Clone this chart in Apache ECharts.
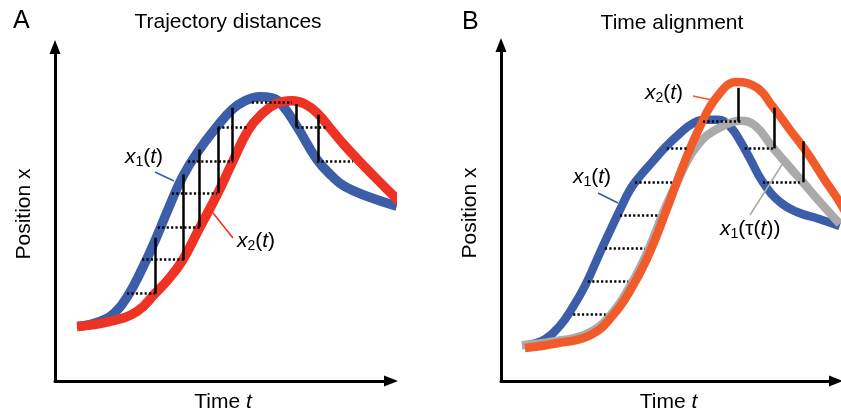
<!DOCTYPE html>
<html><head><meta charset="utf-8">
<script src="https://cdn.jsdelivr.net/npm/echarts@6/dist/echarts.min.js"></script>
<style>html,body{margin:0;padding:0;background:#fff}#c{width:841px;height:418px}</style>
</head><body><div id="c"></div>
<script>
// ---------- Panel A: trajectory distances  [time t, position x] ----------
const aBlue = [[6.7,16.0],[13.1,17.5],[17.5,20.1],[21.3,25.1],[25.4,32.9],[29.4,41.7],[33.5,51.6],[37.3,60.1],[41.7,67.3],[47.2,74.6],[51.6,79.6],[55.4,82.2],[59.8,83.4],[63.3,83.1],[66.2,81.0],[70.6,74.6],[76.4,65.0],[80.8,60.1],[84.5,57.1],[91.0,54.2],[99.7,51.3]];
const aRed = [[6.4,16.0],[16.0,17.5],[23.9,20.4],[29.2,25.7],[33.2,30.0],[37.3,35.6],[42.0,44.6],[47.5,55.1],[51.6,63.9],[56.3,73.5],[60.4,78.4],[64.4,81.3],[69.1,82.2],[72.9,81.3],[76.7,78.4],[80.8,73.5],[84.5,69.1],[88.3,65.0],[93.9,59.2],[100.6,52.5]];
// vertical distances: [t, x low, x high]
const aRungs = [[29.2,25.7,42.0],[37.3,35.6,60.6],[42.0,45.2,67.9],[47.5,55.1,74.4],[51.6,64.5,80.2],[70.3,74.4,81.3],[76.7,64.5,78.1]];
// dotted horizontals: [x, t start, t end]
const aDots = [[25.7,21.0,29.2],[35.6,25.4,37.9],[45.2,30.0,42.3],[55.1,34.1,47.2],[64.5,38.8,51.9],[74.4,47.5,56.3],[81.9,57.4,69.1],[74.4,70.6,79.6],[64.5,76.4,86.9]];

// ---------- Panel B: time alignment ----------
const bBlue = [[7.0,10.4],[12.9,12.2],[17.3,16.2],[20.8,21.2],[24.6,27.8],[28.4,36.2],[31.9,43.8],[34.8,49.9],[37.7,55.7],[40.6,59.7],[44.2,63.8],[48.0,68.1],[52.3,72.2],[56.1,75.1],[59.9,76.2],[63.5,76.2],[67.0,74.2],[69.9,70.1],[72.8,64.9],[76.6,58.0],[81.6,52.2],[86.6,49.3],[93.3,47.2],[99.1,45.2]];
const bGray = [[6.1,10.4],[15.8,11.6],[25.4,13.9],[32.2,19.4],[38.0,28.1],[43.0,38.0],[48.0,50.4],[51.8,58.6],[54.4,64.1],[57.0,68.1],[60.2,71.6],[64.6,74.2],[69.9,75.9],[74.3,74.5],[79.5,68.1],[84.5,62.3],[88.3,58.0],[93.3,52.2],[99.1,45.8]];
const bRed = [[7.0,9.6],[16.4,11.0],[26.0,13.3],[32.7,19.1],[38.6,27.8],[43.6,37.7],[48.5,50.1],[53.2,62.6],[58.2,74.2],[63.2,82.9],[69.0,87.2],[74.9,85.5],[79.5,80.0],[84.5,73.3],[89.5,66.7],[94.2,59.4],[99.4,51.6],[102.0,46.7]];
const bRungs = [[69.3,75.7,85.5],[79.8,67.8,79.7],[88.3,58.0,69.9]];
const bDots = [[19.4,21.1,30.6],[29.0,25.4,37.2],[38.8,30.4,42.1],[48.4,34.8,45.9],[58.0,39.2,50.0],[67.8,48.5,54.4],[75.7,59.1,70.5],[67.8,71.3,79.5],[58.0,76.6,87.4]];

// ---------- text ----------
const titles = ['A','Trajectory distances','B','Time alignment'];
const xName = 'Time {i|t}';
const yName = 'Position x';

const FONT = 'Liberation Sans, Arial, Helvetica, sans-serif';
const BLUE = '#3c5ea8', RED = '#ee3224', ORANGE = '#f15a29', GRAY = '#aaaaaa';

const chart = echarts.init(document.getElementById('c'), null, {renderer:'canvas'});

function axisX(gi){
  return {gridIndex:gi, type:'value', min:0, max:98,
    axisLine:{show:true, onZero:false, lineStyle:{color:'#000', width:3}, symbol:['none','triangle'], symbolSize:[11,14]},
    axisTick:{show:false}, axisLabel:{show:false}, splitLine:{show:false},
    name:xName, nameLocation:'middle', nameGap:11,
    nameTextStyle:{color:'#000', fontSize:21, fontFamily:FONT, rich:{i:{fontStyle:'italic', fontSize:21, fontFamily:FONT, color:'#000'}}}};
}
function axisY(gi){
  return {gridIndex:gi, type:'value', min:0, max:98,
    axisLine:{show:true, onZero:false, lineStyle:{color:'#000', width:3}, symbol:['none','triangle'], symbolSize:[11,14]},
    axisTick:{show:false}, axisLabel:{show:false}, splitLine:{show:false},
    name:yName, nameLocation:'middle', nameGap:20, nameRotate:90,
    nameTextStyle:{color:'#000', fontSize:21, fontFamily:FONT}};
}
function curve(data, color, width, gi, z){
  return {type:'line', data:data, xAxisIndex:gi, yAxisIndex:gi, symbol:'none', smooth:0.45, clip:false, z:z,
    lineStyle:{color:color, width:width, cap:'butt', join:'round'}, silent:true};
}
function rungs(arr, gi){
  return {type:'lines', coordinateSystem:'cartesian2d', xAxisIndex:gi, yAxisIndex:gi, z:10, silent:true,
    lineStyle:{color:'#000', width:2.5, opacity:1, type:'solid'},
    data: arr.map(r => ({coords:[[r[0], r[1]],[r[0], r[2]]]}))};
}
function dots(arr, gi){
  return {type:'lines', coordinateSystem:'cartesian2d', xAxisIndex:gi, yAxisIndex:gi, z:10, silent:true,
    lineStyle:{color:'#000', width:2.5, opacity:1, type:[2.2,2.2]},
    data: arr.map(d => ({coords:[[d[1], d[0]],[d[2], d[0]]]}))};
}

const labRich = {
  i:{fontStyle:'italic', fontSize:21, fontFamily:FONT, lineHeight:25, fill:'#000'},
  n:{fontSize:21, fontFamily:FONT, lineHeight:25, fill:'#000'},
  s:{fontSize:14, fontFamily:FONT, verticalAlign:'bottom', fill:'#000'}
};
function label(text, x, y){
  return {type:'text', x:x, y:y, silent:true, z:20,
    style:{text:text, rich:labRich, fontSize:21, fontFamily:FONT, fill:'#000', align:'left', verticalAlign:'middle'}};
}
function leader(x1,y1,x2,y2,color){
  return {type:'line', silent:true, z:20, shape:{x1:x1,y1:y1,x2:x2,y2:y2}, style:{stroke:color, lineWidth:1.6}};
}

chart.setOption({
  animation:false,
  backgroundColor:'#fff',
  title:[
    {text:titles[0], left:13, top:9, padding:0, textStyle:{fontSize:25, fontWeight:'normal', fontFamily:FONT, color:'#000'}},
    {text:titles[1], left:228, top:12, textAlign:'center', padding:0, textStyle:{fontSize:21, fontWeight:'normal', fontFamily:FONT, color:'#000'}},
    {text:titles[2], left:462, top:10, padding:0, textStyle:{fontSize:25, fontWeight:'normal', fontFamily:FONT, color:'#000'}},
    {text:titles[3], left:672, top:13, textAlign:'center', padding:0, textStyle:{fontSize:21, fontWeight:'normal', fontFamily:FONT, color:'#000'}}
  ],
  grid:[
    {left:55, top:47, width:336, height:336},
    {left:501, top:45, width:335, height:338}
  ],
  xAxis:[axisX(0), axisX(1)],
  yAxis:[axisY(0), axisY(1)],
  series:[
    curve(aBlue, BLUE, 9.5, 0, 2),
    curve(aRed, RED, 9.5, 0, 3),
    rungs(aRungs, 0),
    dots(aDots, 0),
    curve(bBlue, BLUE, 8.5, 1, 2),
    curve(bGray, GRAY, 8.5, 1, 3),
    curve(bRed, ORANGE, 8.5, 1, 4),
    rungs(bRungs, 1),
    dots(bDots, 1)
  ],
  graphic:[
    label('{i|x}{s|1}{n|(}{i|t}{n|)}', 125, 157),
    leader(155,172,174,181,BLUE),
    label('{i|x}{s|2}{n|(}{i|t}{n|)}', 237, 241),
    leader(213,213,233,238,RED),
    label('{i|x}{s|2}{n|(}{i|t}{n|)}', 645, 93),
    leader(693,96,712,100,ORANGE),
    label('{i|x}{s|1}{n|(}{i|t}{n|)}', 573, 177),
    leader(598,193,618,203,BLUE),
    label('{i|x}{s|1}{n|(τ(}{i|t}{n|))}', 720, 229),
    leader(750,215,783,163,GRAY)
  ]
});
</script>
</body></html>
